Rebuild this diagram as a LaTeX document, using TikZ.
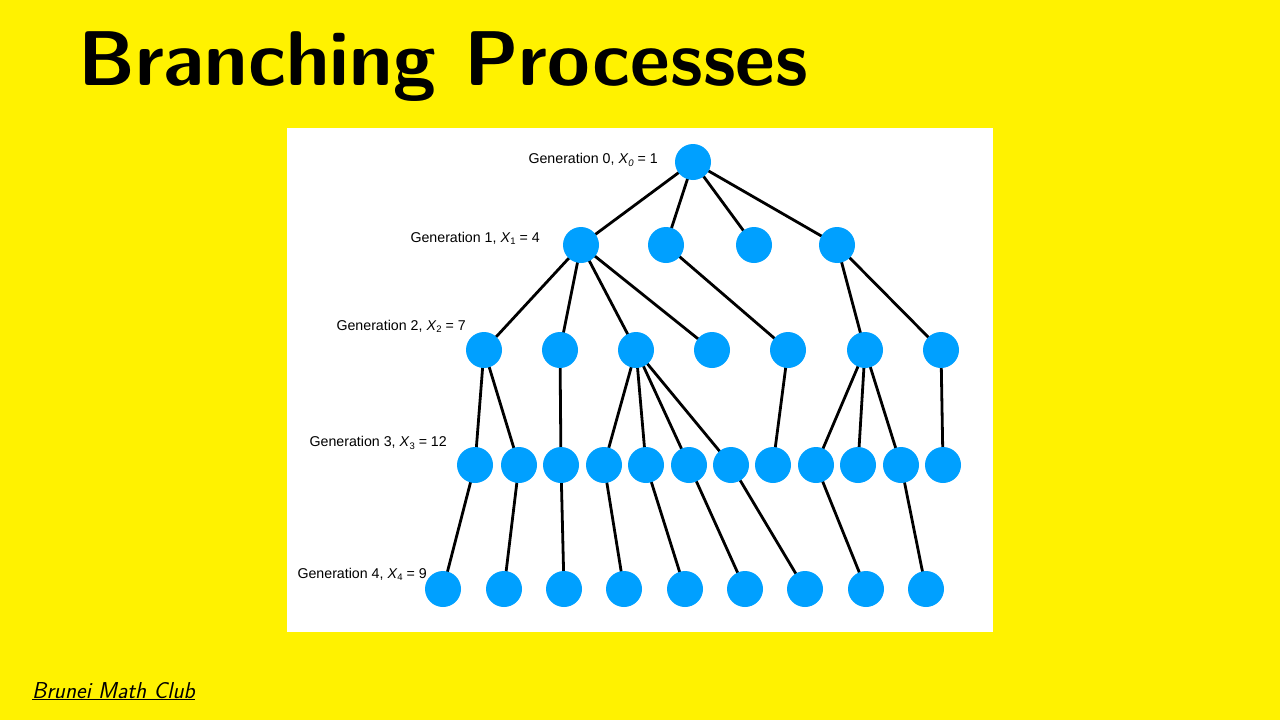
\documentclass[tikz,border=0pt]{standalone}
\usepackage{fontspec}
\newfontfamily\labelfont{Liberation Sans}
\usetikzlibrary{backgrounds}
\definecolor{bgyellow}{RGB}{255,242,0}
\definecolor{dotblue}{RGB}{0,160,255}
\newcommand\sbx[1]{\raisebox{-0.3ex}{\fontsize{9.5}{10}\selectfont #1}}
\pgfdeclarelayer{bottom}
\pgfsetlayers{bottom,background,main}
\begin{document}
\begin{tikzpicture}[x=1pt,y=-1pt,
  dot/.style={circle,fill=dotblue,minimum size=36pt,inner sep=0pt},
  lab/.style={anchor=east,inner sep=0pt,font=\labelfont\fontsize{14.2}{16}\selectfont},
  edge/.style={line width=2.8pt,black}]
\begin{pgfonlayer}{bottom}
\fill[bgyellow] (0,0) rectangle (1280,720);
\fill[white] (287,128) rectangle (993,632);
\end{pgfonlayer}
\useasboundingbox (0,0) rectangle (1280,720);
\node[anchor=base west,inner sep=0pt,font=\sffamily\bfseries\fontsize{77.6}{80}\selectfont] (title) at (78,85) {Branching Processes};
\node[anchor=base west,inner sep=0pt,font=\sffamily\slshape\fontsize{23}{26}\selectfont] (club) at (32,698) {\underline{Brunei Math Club}};
% generation 0
\node[dot] (a) at (693,162) {};
% generation 1
\node[dot] (b1) at (581,245) {};
\node[dot] (b2) at (666,245) {};
\node[dot] (b3) at (754,245) {};
\node[dot] (b4) at (837,245) {};
% generation 2
\node[dot] (c1) at (484,350) {};
\node[dot] (c2) at (560,350) {};
\node[dot] (c3) at (636,350) {};
\node[dot] (c4) at (712,350) {};
\node[dot] (c5) at (788,350) {};
\node[dot] (c6) at (865,350) {};
\node[dot] (c7) at (941,350) {};
% generation 3
\node[dot] (d1) at (475,465) {};
\node[dot] (d2) at (519,465) {};
\node[dot] (d3) at (561,465) {};
\node[dot] (d4) at (604,465) {};
\node[dot] (d5) at (646,465) {};
\node[dot] (d6) at (689,465) {};
\node[dot] (d7) at (731,465) {};
\node[dot] (d8) at (773,465) {};
\node[dot] (d9) at (816,465) {};
\node[dot] (d10) at (858,465) {};
\node[dot] (d11) at (901,465) {};
\node[dot] (d12) at (943,465) {};
% generation 4
\node[dot] (e1) at (443,589) {};
\node[dot] (e2) at (504,589) {};
\node[dot] (e3) at (564,589) {};
\node[dot] (e4) at (624,589) {};
\node[dot] (e5) at (685,589) {};
\node[dot] (e6) at (745,589) {};
\node[dot] (e7) at (805,589) {};
\node[dot] (e8) at (866,589) {};
\node[dot] (e9) at (926,589) {};
% labels
\node[lab] (l0) at (658,160) {Generation 0, \textit{X}\sbx{\textit{0}} = 1};
\node[lab] (l1) at (540,238) {Generation 1, \textit{X}\sbx{1} = 4};
\node[lab] (l2) at (466,326) {Generation 2, \textit{X}\sbx{2} = 7};
\node[lab] (l3) at (447,443) {Generation 3, \textit{X}\sbx{3} = 12};
\node[lab] (l4) at (427,574) {Generation 4, \textit{X}\sbx{4} = 9};
\begin{pgfonlayer}{background}
\foreach \s/\t in {a/b1,a/b2,a/b3,a/b4,
  b1/c1,b1/c2,b1/c3,b1/c4,b2/c5,b4/c6,b4/c7,
  c1/d1,c1/d2,c2/d3,c3/d4,c3/d5,c3/d6,c3/d7,c5/d8,c6/d9,c6/d10,c6/d11,c7/d12,
  d1/e1,d2/e2,d3/e3,d4/e4,d5/e5,d6/e6,d7/e7,d9/e8,d11/e9}
  \draw[edge] (\s.center) -- (\t.center);
\end{pgfonlayer}
\end{tikzpicture}
\end{document}
